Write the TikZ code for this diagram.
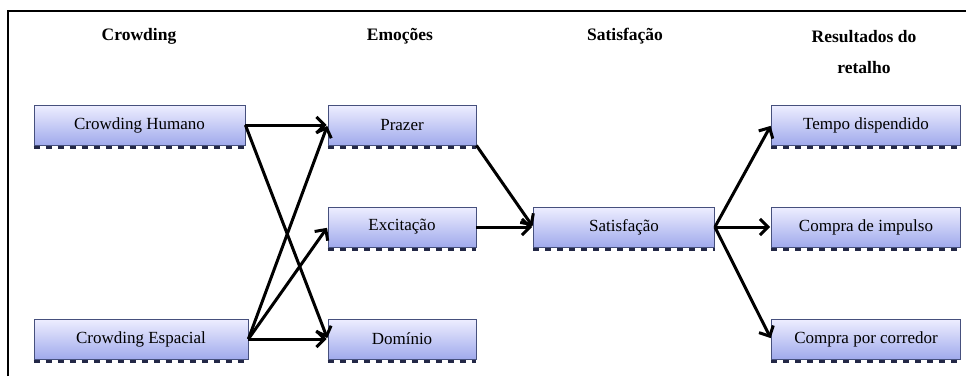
\documentclass[tikz,border=0pt]{standalone}
\usepackage{fontspec}
\setmainfont{Liberation Serif}
\usepackage{xcolor}
\usepackage{tikz}
\usetikzlibrary{arrows.meta, positioning, calc}
\definecolor{boxedge}{RGB}{70, 80, 125}
\definecolor{boxtop}{RGB}{238, 238, 255}
\definecolor{boxbottom}{RGB}{160, 170, 236}
\definecolor{tickdark}{RGB}{35, 40, 70}
\tikzstyle{stage} = [
    rectangle,
    minimum height=40pt,
    text centered,
    draw=boxedge,
    line width=0.8pt,
    top color=boxtop,
    bottom color=boxbottom,
    font=\fontsize{17}{20}\selectfont
]
\tikzstyle{heading} = [
    font=\fontsize{17.5}{31}\selectfont\bfseries,
    align=center
]
\tikzstyle{link} = [
    line width=3pt,
    -{Straight Barb[length=8pt, width=16pt, line width=3pt]},
    color=black,
    shorten >=1pt
]
\tikzstyle{ticks} = [
    line width=3pt,
    dash pattern=on 6pt off 6pt,
    color=tickdark
]

\begin{document}
\begin{tikzpicture}[x=1pt, y=-1pt]
    \useasboundingbox (0,0) rectangle (966,376);
    % Frame
    \draw[line width=2pt] (8,376) -- (8,11) -- (966,11);

    % Headings
    \node[heading] (hcrowd) at (139, 36) {Crowding};
    \node[heading] (hemo) at (400, 36) {Emoções};
    \node[heading] (hsat) at (625, 36) {Satisfação};
    \node[heading] (hres) at (864, 52) {Resultados do\\retalho};

    % Boxes
    \node[stage, minimum width=211pt] (human) at (139.5, 125) {Crowding Humano};
    \node[stage, minimum width=214pt] (spatial) at (141, 339) {Crowding Espacial};
    \node[stage, minimum width=148pt] (pleasure) at (402, 125) {Prazer};
    \node[stage, minimum width=148pt] (arousal) at (402, 227) {Excitação};
    \node[stage, minimum width=148pt] (dominance) at (402, 339) {Domínio};
    \node[stage, minimum width=181pt] (satisf) at (624, 227) {Satisfação};
    \node[stage, minimum width=189pt] (time) at (866, 125) {Tempo dispendido};
    \node[stage, minimum width=189pt] (impulse) at (866, 227) {Compra de impulso};
    \node[stage, minimum width=189pt] (aisle) at (866, 339) {Compra por corredor};

    % Ticks under the boxes
    \foreach \b in {human, spatial, pleasure, arousal, dominance, satisf, time, impulse, aisle}
        \draw[ticks] ([yshift=-2pt]\b.south west) -- ([yshift=-2pt]\b.south east);

    % Arrows
    \draw[link] (human.east) -- (pleasure.west);
    \draw[link] (human.east) -- (dominance.west);
    \draw[link] (spatial.east) -- (pleasure.west);
    \draw[link] (spatial.east) -- (arousal.west);
    \draw[link] (spatial.east) -- (dominance.west);
    \draw[link] (pleasure.south east) -- (satisf.west);
    \draw[link] (arousal.east) -- (satisf.west);
    \draw[link] (satisf.east) -- (time.west);
    \draw[link] (satisf.east) -- (impulse.west);
    \draw[link] (satisf.east) -- (aisle.west);
\end{tikzpicture}
\end{document}
